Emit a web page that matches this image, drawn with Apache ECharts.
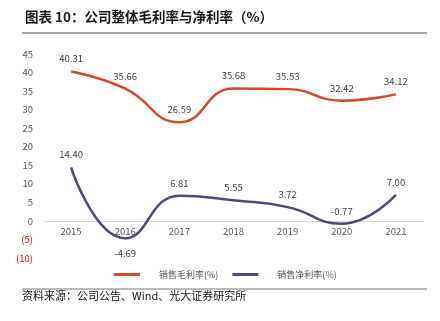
<!DOCTYPE html>
<html><head><meta charset="utf-8">
<script src="https://cdn.jsdelivr.net/npm/echarts@6/dist/echarts.min.js"></script>
<style>html,body{margin:0;padding:0;background:#fff}#c{width:440px;height:321px}</style>
</head><body><div id="c"></div>
<script>
var years = ['2015','2016','2017','2018','2019','2020','2021'];
var grossMargin = [40.31, 35.66, 26.59, 35.68, 35.53, 32.42, 34.12];
var netMargin = [14.40, -4.69, 6.81, 5.55, 3.72, -0.77, 7.00];
var seriesNames = ['销售毛利率(%)', '销售净利率(%)'];
var titleText = '图表 10：公司整体毛利率与净利率（%）';
var sourceText = '资料来源：公司公告、Wind、光大证券研究所';

var chart = echarts.init(document.getElementById('c'), null, {renderer:'canvas'});
var font = '"Noto Sans CJK SC","Noto Sans",sans-serif';
chart.setOption({
  animation:false,
  textStyle:{fontFamily:font},
  title:{text:titleText,left:20,top:5,textStyle:{fontSize:13.5,fontWeight:'bold',color:'#1a1a1a',fontFamily:font}},
  graphic:[
    {type:'line',shape:{x1:22,y1:33,x2:427,y2:33},style:{stroke:'#555',lineWidth:1.2}},
    {type:'line',shape:{x1:22,y1:289,x2:427,y2:289},style:{stroke:'#777',lineWidth:1.2}},
    {type:'text',left:22,top:290,style:{text:sourceText,fontSize:11,fill:'#1a1a1a',fontFamily:font}}
  ],
  legend:{bottom:37,left:109,itemWidth:26,itemHeight:3,itemGap:14,icon:'rect',
    textStyle:{fontSize:9,color:'#595959',padding:[0,0,0,14]},
    data:seriesNames},
  grid:{left:44,right:17,top:54,bottom:63},
  xAxis:{type:'category',data:years,boundaryGap:true,offset:-37,
    axisLine:{onZero:false,lineStyle:{color:'#d9d9d9'}},
    axisTick:{inside:true,length:3,lineStyle:{color:'#d9d9d9'}},
    axisLabel:{color:'#595959',fontSize:9.5,margin:6}},
  yAxis:{type:'value',min:-10,max:45,interval:5,
    splitLine:{show:false},axisLine:{show:false},axisTick:{show:false},
    axisLabel:{fontSize:9.5,margin:11,
      formatter:function(v){return v<0?'{n|('+(-v)+')}':'{p|'+v+'}';},
      rich:{n:{color:'#ff0000',fontSize:9.5},p:{color:'#595959',fontSize:9.5}}}},
  series:[
    {name:seriesNames[0],type:'line',data:grossMargin,smooth:0.5,symbol:'circle',symbolSize:0,showSymbol:true,
     lineStyle:{color:'#d24b25',width:2.5},itemStyle:{color:'#d24b25'},
     label:{show:true,position:'top',distance:8,color:'#404040',fontSize:9.5,
       formatter:function(p){return p.value.toFixed(2);}}},
    {name:seriesNames[1],type:'line',data:netMargin,smooth:0.5,symbol:'circle',symbolSize:0,showSymbol:true,
     lineStyle:{color:'#4e4b7c',width:2.5},itemStyle:{color:'#4e4b7c'},
     label:{show:true,position:'top',distance:8,color:'#404040',fontSize:9.5,
       formatter:function(p){return p.value.toFixed(2);}},
     labelLayout:function(p){ if(p.dataIndex===1){return {dy:28};} return {}; }}
  ]
});
</script></body></html>
